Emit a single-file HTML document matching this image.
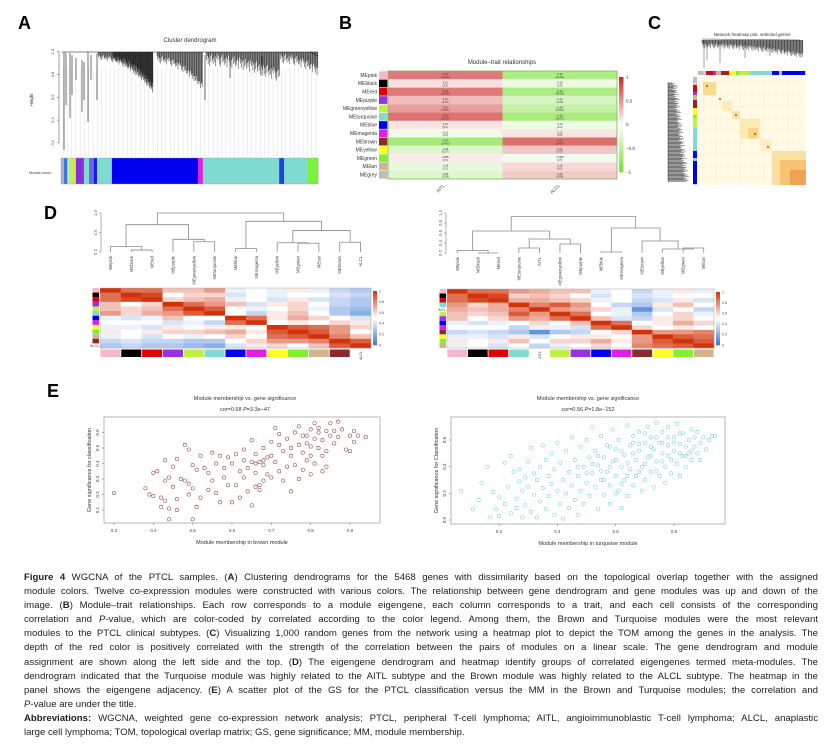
<!DOCTYPE html>
<html><head><meta charset="utf-8">
<style>
html,body{margin:0;padding:0;background:#fff;}
body{width:839px;height:748px;position:relative;overflow:hidden;font-family:"Liberation Sans",sans-serif;}
svg{position:absolute;left:0;top:0;}
svg text{font-family:"Liberation Sans",sans-serif;}
#caption{position:absolute;left:24px;top:571px;width:794px;font-size:9.6px;line-height:14.1px;color:#222;}
#caption div{white-space:nowrap;text-align:justify;text-align-last:justify;}
#caption div.last{text-align-last:left;}
b{font-weight:bold;}
</style></head>
<body>
<svg id="fig" width="839" height="570" viewBox="0 0 839 570">
  <text x="18" y="29" font-size="18" font-weight="bold">A</text>
  <text x="339" y="29" font-size="18" font-weight="bold">B</text>
  <text x="648" y="29" font-size="18" font-weight="bold">C</text>
  <text x="44" y="219" font-size="18" font-weight="bold">D</text>
  <text x="47" y="397" font-size="18" font-weight="bold">E</text>

  <g id="panelA">
    <text x="190" y="42" font-size="6" text-anchor="middle" fill="#333">Cluster dendrogram</text>
    <text transform="translate(33,100) rotate(-90)" font-size="4.5" text-anchor="middle" fill="#333">Height</text>
    <text x="40" y="174" font-size="3.5" text-anchor="middle" fill="#333">Module colors</text>
    <g id="aLeaves"></g>
    <g id="aAxis"></g>
    <g stroke="#111" stroke-width="0.6">
      <line x1="62" y1="52" x2="318" y2="52"/>
      <line x1="310" y1="52" x2="318" y2="56"/>
      <line x1="64" y1="52" x2="64" y2="150"/>
      <line x1="66" y1="53" x2="66" y2="105"/>
      <line x1="70" y1="53" x2="70" y2="118"/>
      <line x1="72" y1="55" x2="72" y2="95"/>
      <line x1="76" y1="58" x2="76" y2="80"/>
      <line x1="82" y1="60" x2="82" y2="112"/>
      <line x1="84" y1="62" x2="84" y2="100"/>
      <line x1="88" y1="52" x2="88" y2="122"/>
      <line x1="91" y1="55" x2="91" y2="80"/>
      <line x1="97" y1="54" x2="97" y2="100"/>
      <line x1="205" y1="55" x2="205" y2="100"/>
      <line x1="230" y1="57" x2="230" y2="78"/>
      <line x1="262" y1="56" x2="262" y2="76"/>
    </g>
    <g id="aFans" stroke="#111" stroke-width="0.45"></g>
    <g id="aColors"></g>
  </g>

  <g id="panelB">
    <text x="502" y="64" font-size="6" text-anchor="middle" fill="#333">Module–trait relationships</text>
    <g id="bCells"></g>
    <rect x="388" y="71" width="229" height="108" fill="none" stroke="#7cb855" stroke-width="0.8"/>
    <g id="bLegend"></g>
  </g>

  <g id="panelC">
    <text x="752" y="36" font-size="4.5" text-anchor="middle" fill="#333">Network heatmap plot, selected genes</text>
    <g id="cTopDendro" stroke="#111" stroke-width="0.4">
      <line x1="702" y1="39" x2="800" y2="40"/>
      <line x1="704" y1="40" x2="704" y2="68"/>
      <line x1="707" y1="42" x2="707" y2="60"/>
      <line x1="720" y1="42" x2="720" y2="63"/>
      <line x1="745" y1="42" x2="745" y2="58"/>
      <line x1="770" y1="44" x2="770" y2="56"/>
    </g>
    <g id="cLeftDendro" stroke="#111" stroke-width="0.4">
      <line x1="668" y1="82" x2="668" y2="182"/>
    </g>
    <g id="cColors"></g>
    <g id="cHeat"></g>
  </g>

  <g id="panelD">
    <g id="dLeft"></g>
    <g id="dRight"></g>
  </g>

  <g id="panelE">
    <g id="eLeft"></g>
    <g id="eRight"></g>
  </g>
</svg>

<div id="caption">
<div><b>Figure 4</b> WGCNA of the PTCL samples. (<b>A</b>) Clustering dendrograms for the 5468 genes with dissimilarity based on the topological overlap together with the assigned</div>
<div>module colors. Twelve co-expression modules were constructed with various colors. The relationship between gene dendrogram and gene modules was up and down of the</div>
<div>image. (<b>B</b>) Module–trait relationships. Each row corresponds to a module eigengene, each column corresponds to a trait, and each cell consists of the corresponding</div>
<div>correlation and <i>P</i>-value, which are color-coded by correlated according to the color legend. Among them, the Brown and Turquoise modules were the most relevant</div>
<div>modules to the PTCL clinical subtypes. (<b>C</b>) Visualizing 1,000 random genes from the network using a heatmap plot to depict the TOM among the genes in the analysis. The</div>
<div>depth of the red color is positively correlated with the strength of the correlation between the pairs of modules on a linear scale. The gene dendrogram and module</div>
<div>assignment are shown along the left side and the top. (<b>D</b>) The eigengene dendrogram and heatmap identify groups of correlated eigengenes termed meta-modules. The</div>
<div>dendrogram indicated that the Turquoise module was highly related to the AITL subtype and the Brown module was highly related to the ALCL subtype. The heatmap in the</div>
<div>panel shows the eigengene adjacency. (<b>E</b>) A scatter plot of the GS for the PTCL classification versus the MM in the Brown and Turquoise modules; the correlation and</div>
<div class="last"><i>P</i>-value are under the title.</div>
<div><b>Abbreviations:</b> WGCNA, weighted gene co-expression network analysis; PTCL, peripheral T-cell lymphoma; AITL, angioimmunoblastic T-cell lymphoma; ALCL, anaplastic</div>
<div class="last">large cell lymphoma; TOM, topological overlap matrix; GS, gene significance; MM, module membership.</div>
</div>

<script>
// ===== Data =====
const aSegStarts = [0, 0.012, 0.024, 0.039, 0.058, 0.089, 0.109, 0.128, 0.140, 0.198, 0.533, 0.552, 0.849, 0.868, 0.961];
const aSegColors = ['#a9b4c8','#3a6fe0','#b9e8a0','#c8f040','#8a2be2','#7fdbd0','#6a6ae0','#1a1ae8','#7fdbd0','#0000f0','#e020e0','#7fdbd0','#2040e0','#7fdbd0','#7cf03a'];
const aTicks = [1.0, 0.8, 0.6, 0.4, 0.2];

const bModules = ['MEpink','MEblack','MEred','MEpurple','MEgreenyellow','MEturquoise','MEblue','MEmagenta','MEbrown','MEyellow','MEgreen','MEtan','MEgrey'];
const bSwatch = ['#f4b8c8','#000000','#e00000','#9a30e0','#c0f040','#80dcd0','#0000f0','#e020e0','#8b2a2a','#ffff20','#80f030','#d2b48c','#bebebe'];
const bTraits = ['AITL','ALCL'];
const bCorAITL = [0.62, 0.15, 0.63, 0.31, 0.45, 0.66, 0.13, -0.12, -0.67, -0.26, 0.088, -0.18, -0.25];
const bPvals = ['2e-05','0.3','9e-06','0.03','0.001','3e-07','0.4','0.4','1e-07','0.07','0.5','0.2','0.08'];
const bLegendTicks = [1, 0.5, 0, -0.5, -1];

const cTopColors = ['#bebebe','#f4b8c8','#8b2a2a','#e00000','#9a30e0','#d2b48c','#8b2a2a','#e00000','#ffff20','#80f030','#c0f040','#80dcd0','#0000f0','#80dcd0','#0000f0'];
const cTopWidths = [5,3,3,4,3,5,5,3,7,3,10,23,7,3,23];

const dLeftOrder = ['MEpink','MEblack','MEred','MEpurple','MEgreenyellow','MEturquoise','MEblue','MEmagenta','MEyellow','MEgreen','MEtan','MEbrown','ALCL'];
const dLeftColors = ['#f4b8c8','#000000','#e00000','#9a30e0','#c0f040','#80dcd0','#0000f0','#e020e0','#ffff20','#80f030','#d2b48c','#8b2a2a',null];
const dAdj = [
 [1,.85,.85,.65,.65,.75,.45,.5,.45,.55,.45,.35,.3],
 [.85,1,.95,.5,.6,.6,.4,.5,.45,.5,.5,.4,.35],
 [.85,.95,1,.6,.65,.7,.45,.5,.4,.55,.4,.35,.3],
 [.65,.5,.6,1,.85,.75,.65,.4,.55,.6,.5,.35,.3],
 [.65,.6,.65,.85,1,.9,.5,.45,.5,.6,.45,.3,.25],
 [.75,.6,.7,.75,.9,1,.5,.35,.55,.65,.5,.3,.2],
 [.45,.4,.45,.65,.5,.5,1,.85,.55,.7,.6,.5,.4],
 [.5,.5,.5,.4,.45,.35,.85,1,.5,.55,.5,.6,.55],
 [.45,.45,.4,.55,.5,.55,.55,.5,1,.9,.85,.75,.6],
 [.55,.5,.55,.6,.6,.65,.7,.55,.9,1,.9,.75,.5],
 [.45,.5,.4,.5,.45,.5,.6,.5,.85,.9,1,.8,.65],
 [.35,.4,.35,.35,.3,.3,.5,.6,.75,.75,.8,1,.9],
 [.3,.35,.3,.3,.25,.2,.4,.55,.6,.5,.65,.9,1]
];
const dRightOrder = ['MEpink','MEblack','MEred','MEturquoise','AITL','MEgreenyellow','MEpurple','MEblue','MEmagenta','MEbrown','MEyellow','MEgreen','MEtan'];
const dRightColors = ['#f4b8c8','#000000','#e00000','#80dcd0',null,'#c0f040','#9a30e0','#0000f0','#e020e0','#8b2a2a','#ffff20','#80f030','#d2b48c'];
const dLeftMerges = [[1,2,0.24],[0,'n0',0.31],[4,5,0.41],[3,'n2',0.46],['n1','n3',0.76],[6,7,0.27],[9,10,0.38],[8,'n6',0.39],[11,12,0.40],['n7','n8',0.64],['n5','n9',0.83],['n4','n10',1.0]];
const dRightMerges = [[1,2,0.20],[0,'n0',0.25],[3,4,0.30],[5,6,0.38],['n2','n3',0.48],['n1','n4',0.64],[7,8,0.22],[11,12,0.30],[10,'n7',0.28],[9,'n8',0.44],['n6','n9',0.70],['n5','n10',0.93]];
const dTicksL = [1.0, 0.6, 0.2];
const dTicksR = [1.0, 0.8, 0.6, 0.4, 0.2];
const dLegendTicks = [1, 0.8, 0.6, 0.4, 0.2, 0];

const eBrownMM = [0.30,0.38,0.39,0.40,0.40,0.41,0.42,0.42,0.43,0.43,0.43,0.44,0.44,0.44,0.45,0.45,0.46,0.46,0.46,0.47,0.48,0.48,0.49,0.49,0.49,0.50,0.50,0.50,0.51,0.51,0.52,0.52,0.53,0.54,0.54,0.55,0.55,0.56,0.56,0.57,0.57,0.58,0.58,0.59,0.59,0.60,0.60,0.61,0.61,0.62,0.62,0.63,0.63,0.63,0.64,0.64,0.65,0.65,0.65,0.66,0.66,0.66,0.67,0.67,0.68,0.68,0.68,0.69,0.69,0.70,0.70,0.71,0.71,0.72,0.72,0.73,0.73,0.74,0.74,0.75,0.75,0.76,0.76,0.77,0.77,0.77,0.78,0.78,0.79,0.79,0.80,0.80,0.80,0.81,0.81,0.81,0.82,0.82,0.82,0.83,0.83,0.83,0.84,0.84,0.84,0.85,0.85,0.86,0.86,0.87,0.87,0.88,0.89,0.90,0.90,0.91,0.91,0.92,0.94,0.78,0.79,0.80,0.75,0.72,0.70,0.68,0.66,0.67];
const eBrownGS = [0.21,0.24,0.20,0.34,0.19,0.35,0.18,0.12,0.29,0.42,0.16,0.31,0.04,0.11,0.38,0.25,0.17,0.43,0.10,0.30,0.29,0.52,0.20,0.27,0.49,0.39,0.24,0.04,0.36,0.12,0.45,0.18,0.37,0.23,0.34,0.47,0.29,0.40,0.21,0.45,0.15,0.37,0.31,0.44,0.26,0.40,0.15,0.46,0.26,0.35,0.18,0.42,0.49,0.31,0.37,0.22,0.55,0.41,0.13,0.46,0.34,0.25,0.41,0.23,0.50,0.39,0.29,0.44,0.33,0.54,0.31,0.41,0.63,0.59,0.35,0.48,0.29,0.56,0.38,0.45,0.22,0.60,0.39,0.52,0.64,0.30,0.47,0.36,0.58,0.42,0.62,0.51,0.33,0.56,0.66,0.40,0.60,0.50,0.63,0.55,0.45,0.35,0.61,0.48,0.38,0.58,0.66,0.53,0.61,0.67,0.57,0.62,0.49,0.58,0.48,0.54,0.61,0.58,0.57,0.58,0.53,0.45,0.50,0.52,0.45,0.42,0.40,0.26];
const eTurqMM = [0.07,0.11,0.13,0.14,0.16,0.17,0.18,0.19,0.20,0.20,0.22,0.22,0.23,0.24,0.24,0.25,0.26,0.26,0.27,0.27,0.28,0.28,0.29,0.29,0.30,0.30,0.31,0.31,0.32,0.32,0.33,0.33,0.34,0.34,0.35,0.35,0.36,0.36,0.37,0.37,0.38,0.38,0.39,0.39,0.40,0.40,0.41,0.41,0.42,0.42,0.43,0.43,0.44,0.44,0.45,0.45,0.46,0.46,0.47,0.47,0.48,0.48,0.49,0.49,0.50,0.50,0.51,0.51,0.52,0.52,0.53,0.53,0.54,0.54,0.55,0.55,0.56,0.56,0.57,0.57,0.58,0.58,0.59,0.59,0.60,0.60,0.61,0.61,0.62,0.62,0.63,0.63,0.64,0.64,0.65,0.65,0.66,0.66,0.67,0.67,0.68,0.68,0.69,0.69,0.70,0.70,0.71,0.71,0.72,0.72,0.73,0.73,0.74,0.74,0.75,0.75,0.76,0.76,0.77,0.77,0.78,0.78,0.79,0.79,0.80,0.80,0.81,0.81,0.82,0.82,0.83,0.83,0.84,0.84,0.85,0.85,0.86,0.86,0.87,0.87,0.88,0.88,0.89,0.89,0.90,0.91,0.92,0.93,0.94,0.58,0.62,0.66,0.70,0.74,0.78,0.82,0.55,0.60,0.64,0.68,0.72,0.76,0.80,0.84,0.52,0.56,0.60,0.64,0.68,0.72,0.76,0.86,0.47,0.50,0.54,0.58,0.62,0.66,0.70,0.74,0.78,0.82];
const eTurqGS = [0.22,0.08,0.15,0.28,0.40,0.02,0.21,0.08,0.17,0.03,0.43,0.12,0.25,0.05,0.48,0.36,0.16,0.09,0.38,0.29,0.02,0.22,0.32,0.11,0.25,0.44,0.06,0.54,0.19,0.35,0.30,0.02,0.14,0.40,0.24,0.56,0.45,0.08,0.33,0.18,0.50,0.27,0.04,0.38,0.22,0.58,0.12,0.43,0.30,0.01,0.52,0.20,0.36,0.09,0.62,0.26,0.45,0.15,0.33,0.04,0.55,0.22,0.40,0.12,0.28,0.60,0.47,0.18,0.35,0.70,0.25,0.52,0.08,0.41,0.30,0.63,0.19,0.47,0.36,0.56,0.26,0.12,0.44,0.68,0.33,0.53,0.22,0.60,0.40,0.09,0.49,0.30,0.71,0.18,0.56,0.38,0.26,0.63,0.45,0.33,0.52,0.66,0.40,0.22,0.58,0.30,0.47,0.70,0.36,0.62,0.53,0.25,0.44,0.73,0.58,0.33,0.50,0.66,0.40,0.28,0.56,0.70,0.45,0.35,0.62,0.52,0.42,0.72,0.57,0.33,0.48,0.65,0.55,0.40,0.60,0.50,0.68,0.45,0.55,0.62,0.50,0.66,0.58,0.45,0.62,0.53,0.60,0.63,0.63,0.40,0.27,0.50,0.42,0.37,0.48,0.50,0.37,0.45,0.33,0.57,0.48,0.58,0.58,0.48,0.42,0.30,0.20,0.43,0.36,0.55,0.44,0.52,0.40,0.35,0.48,0.55,0.52,0.58,0.65,0.62,0.62,0.65];
const eLeftXTicks = [0.3,0.4,0.5,0.6,0.7,0.8,0.9];
const eLeftYTicks = [0.1,0.2,0.3,0.4,0.5,0.6];
const eRightXTicks = [0.2,0.4,0.6,0.8];
const eRightYTicks = [0.0,0.2,0.4,0.6];

// ===== Helpers =====
const NS = 'http://www.w3.org/2000/svg';
function mk(tag, attrs, parent){ const e=document.createElementNS(NS,tag); for(const k in attrs) e.setAttribute(k,attrs[k]); parent.appendChild(e); return e; }
function lerp(a,b,t){return a+(b-a)*t;}
function mix(c1,c2,t){ return 'rgb('+[0,1,2].map(i=>Math.round(lerp(c1[i],c2[i],t))).join(',')+')'; }
function fmt(v){ return (Math.abs(v)<0.1 && v!==0)? v.toFixed(3).replace(/0$/,'') : v.toFixed(2); }
const jit = [0,3,1,5,2,6,1,4,0,3,5,2,4,1,6,2];

// ===== Panel A =====
(function(){
  const x0=61, x1=318, yTop=51.7, per=114;
  const yA = v => yTop + (1-v)*per;
  const ax = document.getElementById('aAxis');
  let l = mk('line',{x1:59,y1:yA(1),x2:59,y2:yA(0.2),stroke:'#444','stroke-width':0.5},ax);
  
  
  aTicks.forEach(v=>{
    const tk = mk('line',{x1:57,y1:yA(v),x2:59,y2:yA(v),stroke:'#444','stroke-width':0.5},ax);
    
    
    const t = mk('text',{transform:`translate(54,${yA(v)}) rotate(-90)`,'font-size':4,'text-anchor':'middle',fill:'#444'},ax);
    t.textContent = v.toFixed(1);
    
    
  });
  const lv = document.getElementById('aLeaves');
  for(let i=0;i<60;i++){
    const x = x0+2+i*(x1-x0-4)/59;
    const ln = mk('line',{x1:x,y1:68,x2:x,y2:157,stroke:'#cfcfcf','stroke-width':0.35},lv);
    
    
  }
  // dense cluster fans
  const fans = [[98,153,55,88,2],[113,153,56,84,2],[157,203,56,84,3],[206,280,54,70,5],[280,318,54,66,4]];
  const fg = document.getElementById('aFans');
  fans.forEach(f=>{
    let k=0;
    for(let x=f[0]; x<=f[1]; x+=0.7, k++){
      const t=(x-f[0])/(f[1]-f[0]);
      const yb = f[2] + (f[3]-f[2])*t*t + jit[k%16]*f[4]*0.4;
      const ln = mk('line',{x1:x,y1:52,x2:x,y2:yb},fg);
      
      
    }
  });
  const cg = document.getElementById('aColors');
  aSegStarts.forEach((s,i)=>{
    const e = (i+1<aSegStarts.length)? aSegStarts[i+1] : 1;
    const r = mk('rect',{x:x0+s*(x1-x0),y:158,width:(e-s)*(x1-x0)+0.3,height:26,fill:aSegColors[i]},cg);
    
    
  });
  const fr = mk('rect',{x:x0,y:158,width:x1-x0,height:26,fill:'none',stroke:'#999','stroke-width':0.4},cg);
  
  
})();

// ===== Panel B =====
(function(){
  const g = document.getElementById('bCells');
  const xL=388, xM=502.5, xR=617, yT=71, rh=108/13;
  const red=[205,40,40], wht=[255,255,255], grn=[124,224,58];
  const col = v => v>=0 ? mix(wht,red,Math.min(1,v)) : mix(wht,grn,Math.min(1,-v));
  bModules.forEach((m,i)=>{
    const y = yT+i*rh;
    const lab = mk('text',{x:377,y:y+rh/2+1.7,'font-size':5,'text-anchor':'end',fill:'#333'},g);
    lab.textContent = m;
    
    
    const sw = mk('rect',{x:379,y:y+0.3,width:8.3,height:rh-0.6,fill:bSwatch[i]},g);
    
    
    [bCorAITL[i], -bCorAITL[i]].forEach((v,j)=>{
      const x = j===0? xL : xM, w = j===0? xM-xL : xR-xM;
      const c = mk('rect',{x:x,y:y,width:w,height:rh,fill:col(v)},g);
      
      
      const t = mk('text',{x:x+w/2,y:y+rh/2,'font-size':2.6,'text-anchor':'middle',fill:'#333'},g);
      t.textContent = fmt(v);
      
      
      const t2 = mk('text',{x:x+w/2,y:y+rh/2+2.8,'font-size':2.6,'text-anchor':'middle',fill:'#333'},g);
      t2.textContent = '('+bPvals[i]+')';
      
      
    });
  });
  bTraits.forEach((t,j)=>{
    const x = j===0? 445 : 560;
    const tx = mk('text',{transform:`translate(${x},186) rotate(-45)`,'font-size':4.5,'text-anchor':'end',fill:'#333'},g);
    tx.textContent = t;
    
    
  });
  const lg = document.getElementById('bLegend');
  const ly0=77, ly1=172;
  for(let k=0;k<40;k++){
    const v = 1 - k*2/40;
    const r = mk('rect',{x:619,y:ly0+k*(ly1-ly0)/40,width:4.5,height:(ly1-ly0)/40+0.3,fill:col(v-1/40)},lg);
    
    
  }
  bLegendTicks.forEach(v=>{
    const y = ly0 + (1-v)/2*(ly1-ly0);
    const t = mk('text',{x:626,y:y+1.6,'font-size':4.5,fill:'#333'},lg);
    t.textContent = String(v).replace('-','−');
    
    
  });
})();

// ===== Panel C =====
(function(){
  const td = document.getElementById('cTopDendro');
  let k=0;
  for(let x=702; x<=803; x+=0.6, k++){
    const t=(x-702)/101;
    const yb = 43 + t*t*10 + jit[k%16]*0.9;
    const ln = mk('line',{x1:x,y1:40,x2:x,y2:yb},td);
    
    
  }
  const ld = document.getElementById('cLeftDendro');
  k=0;
  for(let y=83; y<=182; y+=0.8, k++){
    const t=(y-83)/99;
    const xe = 672 + t*12 + jit[k%16]*0.9;
    const ln = mk('line',{x1:668,y1:y,x2:xe,y2:y},ld);
    
    
  }
  const cc = document.getElementById('cColors');
  let x = 698;
  cTopColors.forEach((c,i)=>{
    const r = mk('rect',{x:x,y:71,width:cTopWidths[i]+0.2,height:4,fill:c},cc);
    
    
    const r2 = mk('rect',{x:693,y:77+(x-698),width:4,height:cTopWidths[i]+0.2,fill:c},cc);
    
    
    x += cTopWidths[i];
  });
  const h = document.getElementById('cHeat');
  const bg = mk('rect',{x:698,y:77,width:108,height:108,fill:'#fffae6'},h);
  
  
  [704,716,728,740,752,764,776,788,800].forEach(p=>{
    const a = mk('line',{x1:p,y1:77,x2:p,y2:185,stroke:'#f8eac0','stroke-width':0.4},h);
    
    
    const b = mk('line',{x1:698,y1:p-621,x2:806,y2:p-621,stroke:'#f8eac0','stroke-width':0.4},h);
    
    
  });
  const blocks = [[703,82,13,13,'#f7d77e'],[722,101,10,10,'#faeab0'],[732,111,8,8,'#f8e0a0'],[740,119,20,20,'#f9e6aa'],[748,128,10,10,'#f6cf80'],[760,139,12,12,'#faecbc'],[772,151,34,34,'#f8dc98'],[780,160,26,25,'#f4bd6a'],[790,170,16,15,'#ee9c4c']];
  blocks.forEach(b=>{
    const r = mk('rect',{x:b[0],y:b[1],width:b[2],height:b[3],fill:b[4],opacity:0.85},h);
    
    
  });
  [[707,86],[720,99],[736,115],[755,134],[768,147]].forEach(p=>{
    const d = mk('circle',{cx:p[0],cy:p[1],r:1.1,fill:'#d8601f'},h);
    
    
  });
})();

// ===== Panel D =====
const blueC=[60,120,215], whiteC=[255,255,255], redC=[210,50,10];
function adjColor(v){ return v<0.5 ? mix(blueC,whiteC,v/0.5) : mix(whiteC,redC,(v-0.5)/0.5); }
function drawD(gid, order, colors, mat, merges, hx0, hx1, hy0, hy1, axisX, ticks, yOf, leafY, legX){
  const g = document.getElementById(gid);
  const n = order.length, cw=(hx1-hx0)/n, rh=(hy1-hy0)/n;
  const nodes = [];
  const pos = ref => typeof ref==='number' ? {x:hx0+(ref+0.5)*cw, y:leafY} : nodes[+ref.slice(1)];
  merges.forEach(m=>{
    const a=pos(m[0]), b=pos(m[1]), y=yOf(m[2]);
    const p = mk('path',{d:`M${a.x},${a.y} V${y} H${b.x} V${b.y}`,fill:'none',stroke:'#8a8a8a','stroke-width':0.8},g);
    
    
    nodes.push({x:(a.x+b.x)/2,y:y});
  });
  const al = mk('line',{x1:axisX,y1:yOf(ticks[0]),x2:axisX,y2:yOf(ticks[ticks.length-1]),stroke:'#666','stroke-width':0.5},g);
  
  
  ticks.forEach(v=>{
    const tk = mk('line',{x1:axisX-2,y1:yOf(v),x2:axisX,y2:yOf(v),stroke:'#666','stroke-width':0.5},g);
    
    
    const t = mk('text',{transform:`translate(${axisX-4},${yOf(v)}) rotate(-90)`,'font-size':4.2,'text-anchor':'middle',fill:'#555'},g);
    t.textContent = v.toFixed(1);
    
    
  });
  order.forEach((name,i)=>{
    const t = mk('text',{transform:`translate(${hx0+(i+0.5)*cw+1.5},${leafY+4}) rotate(-90)`,'font-size':4.2,'text-anchor':'end',fill:'#444'},g);
    t.textContent = name;
    
    
  });
  for(let r=0;r<n;r++) for(let c=0;c<n;c++){
    const cell = mk('rect',{x:hx0+c*cw,y:hy0+r*rh,width:cw+0.3,height:rh+0.3,fill:adjColor(mat[r][c])},g);
    
    
  }
  const fr = mk('rect',{x:hx0,y:hy0,width:hx1-hx0,height:hy1-hy0,fill:'none',stroke:'#aaa','stroke-width':0.5},g);
  
  
  colors.forEach((c,i)=>{
    if(c){
      const s = mk('rect',{x:hx0+i*cw+0.4,y:hy1+1.5,width:cw-0.8,height:7.5,fill:c},g);
      
      
      const s2 = mk('rect',{x:hx0-7.5,y:hy0+i*rh,width:6.5,height:rh,fill:c},g);
      
      
    } else {
      const t = mk('text',{transform:`translate(${hx0+(i+0.5)*cw+1.5},${hy1+3}) rotate(-90)`,'font-size':3.6,'text-anchor':'end',fill:'#444'},g);
      t.textContent = order[i];
      
      
      const t2 = mk('text',{x:hx0-1,y:hy0+(i+0.8)*rh,'font-size':3.6,'text-anchor':'end',fill:'#444'},g);
      t2.textContent = order[i];
      
      
    }
  });
  const ly0=hy0+3, ly1=hy1-3;
  for(let k=0;k<30;k++){
    const v = 1-k/30;
    const r = mk('rect',{x:legX,y:ly0+k*(ly1-ly0)/30,width:4,height:(ly1-ly0)/30+0.3,fill:adjColor(v-1/60)},g);
    
    
  }
  dLegendTicks.forEach(v=>{
    const t = mk('text',{x:legX+6,y:ly0+(1-v)*(ly1-ly0)+1.3,'font-size':3.6,fill:'#444'},g);
    t.textContent = String(v);
    
    
  });
}
drawD('dLeft', dLeftOrder, dLeftColors, dAdj, dLeftMerges, 100, 371, 288, 348, 101, dTicksL, v=>213+(1-v)*48.75, 252, 373);
const idxMap = dRightOrder.map(n => n==='AITL' ? -1 : dLeftOrder.indexOf(n));
const alclIdx = dLeftOrder.indexOf('ALCL');
const dAdjRight = idxMap.map(ri => idxMap.map(ci => {
  if(ri===-1 && ci===-1) return 1;
  if(ri===-1) return 1 - dAdj[alclIdx][ci];
  if(ci===-1) return 1 - dAdj[ri][alclIdx];
  return dAdj[ri][ci];
}));
drawD('dRight', dRightOrder, dRightColors, dAdjRight, dRightMerges, 447, 714, 289, 348, 446, dTicksR, v=>213+(1-v)*50, 253, 716);

// ===== Panel E =====
function drawScatter(gid, xs, ys, box, xScale, yScale, xTicks, yTicks, yDec, stroke, title2, xlab, ylab, cx){
  const g = document.getElementById(gid);
  const t1 = mk('text',{x:cx,y:400,'font-size':5.5,'text-anchor':'middle',fill:'#333'},g);
  t1.textContent = 'Module membership vs. gene significance';
  
  
  const t2 = mk('text',{x:cx,y:411,'font-size':5.5,'text-anchor':'middle',fill:'#333'},g);
  t2.innerHTML = title2;
  
  
  xs.forEach((v,i)=>{
    const c = mk('circle',{cx:xScale(v),cy:yScale(ys[i]),r:1.7,fill:'none',stroke:stroke,'stroke-width':0.55},g);
    
    
  });
  const b = mk('rect',{x:box[0],y:box[1],width:box[2]-box[0],height:box[3]-box[1],fill:'none',stroke:'#888','stroke-width':0.6},g);
  
  
  xTicks.forEach(v=>{
    const x = xScale(v);
    const tk = mk('line',{x1:x,y1:box[3],x2:x,y2:box[3]+2,stroke:'#666','stroke-width':0.5},g);
    
    
    const t = mk('text',{x:x,y:box[3]+9,'font-size':4.5,'text-anchor':'middle',fill:'#444'},g);
    t.textContent = v.toFixed(1);
    
    
  });
  yTicks.forEach(v=>{
    const y = yScale(v);
    const tk = mk('line',{x1:box[0]-2,y1:y,x2:box[0],y2:y,stroke:'#666','stroke-width':0.5},g);
    
    
    const t = mk('text',{transform:`translate(${box[0]-5},${y}) rotate(-90)`,'font-size':4.5,'text-anchor':'middle',fill:'#444'},g);
    t.textContent = v.toFixed(yDec);
    
    
  });
  const xl = mk('text',{x:(box[0]+box[2])/2,y:box[3]+21,'font-size':5.5,'text-anchor':'middle',fill:'#333'},g);
  xl.textContent = xlab;
  
  
  const yl = mk('text',{transform:`translate(${box[0]-13},${(box[1]+box[3])/2}) rotate(-90)`,'font-size':5.5,'text-anchor':'middle',fill:'#333'},g);
  yl.textContent = ylab;
  
  
}
drawScatter('eLeft', eBrownMM, eBrownGS, [104,417,380,523], v=>114+(v-0.3)*393.3, v=>510-(v-0.1)*155, eLeftXTicks, eLeftYTicks, 1, '#8b3a3a',
  'cor=0.68 <tspan font-style="italic">P</tspan>=3.3e−47', 'Module membership in brown module', 'Gene significance for classification', 245);
drawScatter('eRight', eTurqMM, eTurqGS, [451,417,725,524], v=>499+(v-0.2)*291.7, v=>520-v*133.3, eRightXTicks, eRightYTicks, 1, '#6fd6c4',
  'cor=0.56 <tspan font-style="italic">P</tspan>=1.8e−152', 'Module membership in turquoise module', 'Gene significance for Classification', 588);
</script>
</body></html>
